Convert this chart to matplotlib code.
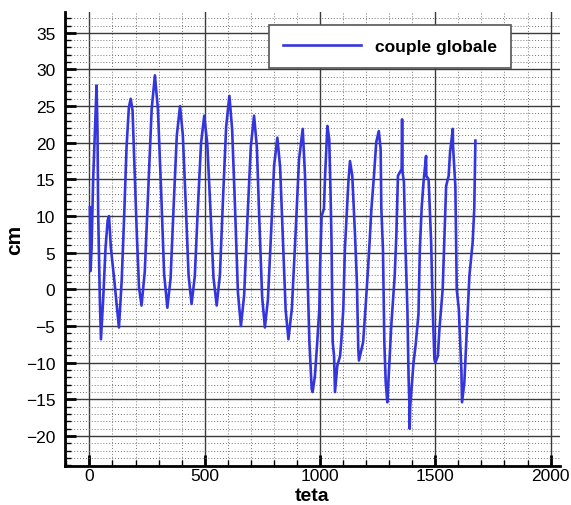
import matplotlib
matplotlib.use('Agg')
import matplotlib.pyplot as plt
from matplotlib.ticker import MultipleLocator

plt.rcParams['font.family'] = ['Liberation Sans', 'DejaVu Sans']

# valeurs (teta, cm)
teta = [2, 5, 9.5, 16, 24, 31, 35, 38, 45, 50, 60, 70, 79, 85, 93, 108, 118, 128,
        140, 151, 161, 171, 179, 187, 195, 205, 215, 226,
        240, 255, 270, 284, 297, 311, 324, 338,
        352, 365, 379, 393, 405, 418, 430, 443,
        457, 470, 484, 498, 511, 525, 538, 552,
        566, 579, 593, 607, 619, 632, 644, 657,
        671, 685, 700, 714, 726, 737, 749, 761,
        774, 788, 801, 815, 827, 839, 851, 863,
        878, 894, 909, 925, 935, 942, 954, 964, 968,
        978, 988, 997, 1000, 1007, 1017, 1022, 1032, 1040, 1046, 1050, 1055, 1061, 1065,
        1075, 1087, 1092, 1101, 1108, 1123, 1130, 1140, 1152, 1160, 1166, 1169,
        1187, 1197, 1208, 1215, 1223, 1234, 1244, 1255, 1263, 1266, 1273, 1279, 1285, 1292,
        1298, 1309, 1324, 1331, 1338, 1354, 1356, 1358, 1364, 1370, 1379, 1384, 1388, 1389,
        1391, 1396, 1405, 1415, 1427, 1433, 1441, 1450, 1460, 1461, 1471, 1482, 1489, 1496, 1500,
        1511, 1518, 1532, 1539, 1547, 1558, 1564, 1576, 1577, 1587, 1593, 1602, 1613, 1616,
        1626, 1633, 1640, 1648, 1662, 1669, 1674]
cm = [11.2, 2.5, 5.8, 14.8, 21.6, 27.8, 21.6, 10.3, -1.1, -6.8, -1.1, 5.7, 9.4, 10.0, 5.7, 1.2, -2.0, -5.2,
      1.2, 10.3, 19.4, 24.8, 26.0, 24.4, 17.1, 8.0, 0.3, -2.2,
      2.4, 13.5, 24.6, 29.2, 24.6, 13.4, 2.1, -2.5,
      1.5, 11.2, 21.0, 25.0, 21.1, 11.5, 1.9, -2.0,
      1.8, 10.9, 19.9, 23.7, 19.9, 10.8, 1.6, -2.2,
      2.0, 12.1, 22.2, 26.4, 21.8, 10.7, -0.4, -5.0,
      -0.8, 9.4, 19.5, 23.7, 19.5, 9.3, -1.0, -5.2,
      -1.4, 7.8, 16.9, 20.7, 16.7, 7.0, -2.8, -6.8,
      -2.6, 7.6, 17.7, 21.9, 15.5, 6.4, -7.2, -13.6, -14.0,
      -11.8, -7.2, -2.7, 2.8, 10.0, 11.0, 15.5, 22.3, 20.5, 12.8, 6.4, -7.2, -9.1, -14.0,
      -10.4, -9.1, -7.2, -2.7, 5.5, 14.6, 17.5, 15.5, 7.3, 1.0, -8.1, -9.7,
      -7.2, -2.7, 2.7, 6.4, 11.0, 15.5, 20.1, 21.6, 19.1, 11.0, 5.5, -7.2, -12.7, -15.4,
      -11.8, -5.0, 1.9, 7.3, 15.5, 16.4, 23.2, 16.0, 14.6, 6.4, -2.7, -11.8, -16.0, -19.0,
      -16.0, -14.0, -10.2, -7.5, -3.4, 5.5, 11.2, 15.0, 18.2, 15.5, 15.0, 6.4, -2.7, -9.5, -10.0,
      -9.1, -5.4, 0.0, 6.4, 14.1, 15.5, 18.7, 21.9, 19.5, 14.1, 0.0, -2.7, -10.9, -15.4,
      -12.7, -8.1, -3.6, 1.9, 6.4, 11.0, 20.3]

fig = plt.figure(figsize=(5.71, 5.06), dpi=100)
ax = fig.add_axes([0.1138, 0.0777, 0.867, 0.896])

ax.plot(teta, cm, color='#3535dd', linewidth=1.9, label='couple globale')

ax.set_xlim(-106, 2041)
ax.set_ylim(-24.05, 37.8)
ax.xaxis.set_major_locator(MultipleLocator(500))
ax.xaxis.set_minor_locator(MultipleLocator(100))
ax.yaxis.set_major_locator(MultipleLocator(5))
ax.yaxis.set_minor_locator(MultipleLocator(1))

ax.grid(True, which='major', color='#3a3a3a', linewidth=1.0)
ax.grid(True, which='minor', color='#777777', linewidth=0.7, linestyle=(0, (1, 2)))
ax.set_axisbelow(True)

for s in ['top', 'right']:
    ax.spines[s].set_visible(False)
for s in ['left', 'bottom']:
    ax.spines[s].set_linewidth(2.0)

ax.tick_params(which='major', direction='in', length=8, width=2, labelsize=12.5)
ax.tick_params(axis='x', which='major', pad=2)
ax.tick_params(axis='y', which='major', pad=7)
ax.tick_params(which='minor', direction='in', length=4, width=1)

ax.set_xlabel('teta', fontsize=14, fontweight='bold')
ax.xaxis.set_label_coords(0.5, -0.046)
ax.set_ylabel('cm', fontsize=15, fontweight='bold', labelpad=1)

leg = ax.legend(loc='upper left', bbox_to_anchor=(0.412, 0.971), borderaxespad=0,
                handlelength=4.5, handletextpad=0.8, borderpad=0.8, fancybox=False,
                prop={'size': 12.5, 'weight': 'bold'})
leg.get_frame().set_edgecolor('#555555')
leg.get_frame().set_linewidth(1.2)
leg.get_frame().set_alpha(1)

fig.savefig('out.png', dpi=100)
